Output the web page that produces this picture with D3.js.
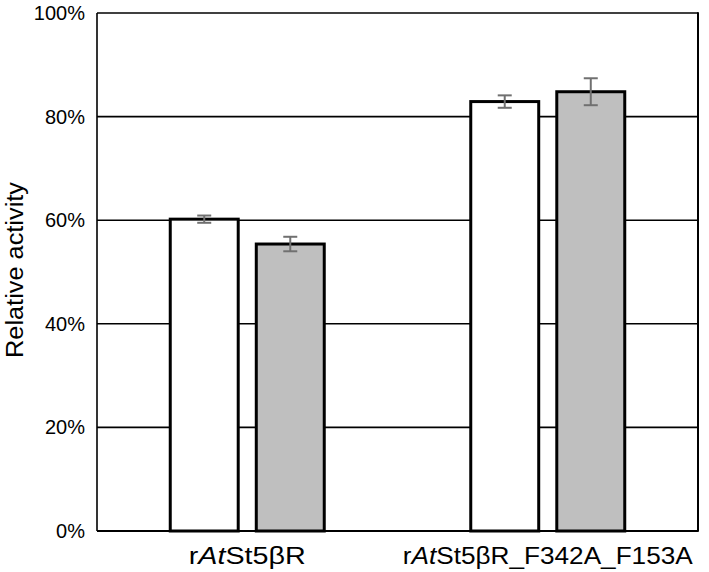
<!DOCTYPE html>
<html><head><meta charset="utf-8">
<script src="https://cdn.jsdelivr.net/npm/d3@7"></script>
<style>body{margin:0;background:#fff}svg{display:block}text{font-family:"Liberation Sans",Arial,sans-serif}</style>
</head><body>
<svg id="c" width="709" height="572"></svg>
<script>
const categories = ["rAtSt5βR", "rAtSt5βR_F342A_F153A"];
const seriesNames = ["A", "B"];
const seriesColors = ["#ffffff", "#bfbfbf"];
const valuesA = [0.602, 0.829];
const valuesB = [0.554, 0.848];
const errorsA = [0.007, 0.012];
const errorsB = [0.014, 0.026];
const yTicks = [0, 0.2, 0.4, 0.6, 0.8, 1.0];
const labelWidths = [117, 290];

const svg = d3.select("#c");
const m = {left: 97, top: 13, right: 698, bottom: 531};
const y = d3.scaleLinear().domain([0, 1]).range([m.bottom, m.top]);
const x0 = d3.scaleBand().domain(categories).range([m.left, m.right]);
const x1 = d3.scaleBand().domain(seriesNames).range([0, 154]).paddingInner(0.21);

// gridlines
svg.append("g").selectAll("line").data(yTicks.filter(d => d > 0)).join("line")
  .attr("x1", m.left).attr("x2", m.right)
  .attr("y1", d => y(d)).attr("y2", d => y(d))
  .attr("stroke", "#000").attr("stroke-width", 1.6);

// tick labels
svg.append("g").selectAll("text").data(yTicks).join("text")
  .attr("x", 85).attr("y", d => y(d)).attr("dy", "0.35em")
  .attr("text-anchor", "end").attr("font-size", 20).attr("fill", "#000")
  .text(d => d3.format(".0%")(d));

// bars
const data = [];
categories.forEach((c, i) => {
  data.push({c, s: "A", v: valuesA[i], e: errorsA[i], col: seriesColors[0]});
  data.push({c, s: "B", v: valuesB[i], e: errorsB[i], col: seriesColors[1]});
});
const gx = c => x0(c) + x0.bandwidth() / 2 - 77;
svg.append("g").selectAll("rect").data(data).join("rect")
  .attr("x", d => gx(d.c) + x1(d.s))
  .attr("y", d => y(d.v))
  .attr("width", x1.bandwidth())
  .attr("height", d => y(0) - y(d.v))
  .attr("fill", d => d.col).attr("stroke", "#000").attr("stroke-width", 3);

// error bars
const eb = svg.append("g").attr("stroke", "#707070").attr("stroke-width", 2);
data.forEach(d => {
  const cx = gx(d.c) + x1(d.s) + x1.bandwidth() / 2;
  eb.append("line").attr("x1", cx).attr("x2", cx).attr("y1", y(d.v + d.e)).attr("y2", y(d.v - d.e));
  eb.append("line").attr("x1", cx - 7).attr("x2", cx + 7).attr("y1", y(d.v + d.e)).attr("y2", y(d.v + d.e));
  eb.append("line").attr("x1", cx - 7).attr("x2", cx + 7).attr("y1", y(d.v - d.e)).attr("y2", y(d.v - d.e));
});

// axes frame
svg.append("line").attr("x1", m.left).attr("x2", m.left).attr("y1", m.top).attr("y2", m.bottom).attr("stroke", "#000").attr("stroke-width", 1.6);
svg.append("line").attr("x1", m.right).attr("x2", m.right).attr("y1", m.top - 0.8).attr("y2", m.bottom + 0.8).attr("stroke", "#000").attr("stroke-width", 2);
svg.append("line").attr("x1", m.left).attr("x2", m.right).attr("y1", m.bottom).attr("y2", m.bottom).attr("stroke", "#000").attr("stroke-width", 2);

// category labels with italic "At"
svg.append("g").selectAll("text").data(categories).join("text")
  .attr("x", c => x0(c) + x0.bandwidth() / 2).attr("y", 564)
  .attr("text-anchor", "middle").attr("font-size", 23).attr("fill", "#000")
  .attr("textLength", (c, i) => labelWidths[i]).attr("lengthAdjust", "spacingAndGlyphs")
  .each(function(c) {
    const t = d3.select(this);
    t.append("tspan").text(c.slice(0, 1));
    t.append("tspan").attr("font-style", "italic").text(c.slice(1, 3));
    t.append("tspan").text(c.slice(3));
  });

// y title
svg.append("text").attr("transform", "translate(23,270) rotate(-90)")
  .attr("text-anchor", "middle").attr("font-size", 23).attr("fill", "#000")
  .attr("textLength", 176).attr("lengthAdjust", "spacingAndGlyphs")
  .text("Relative activity");
</script>
</body></html>
